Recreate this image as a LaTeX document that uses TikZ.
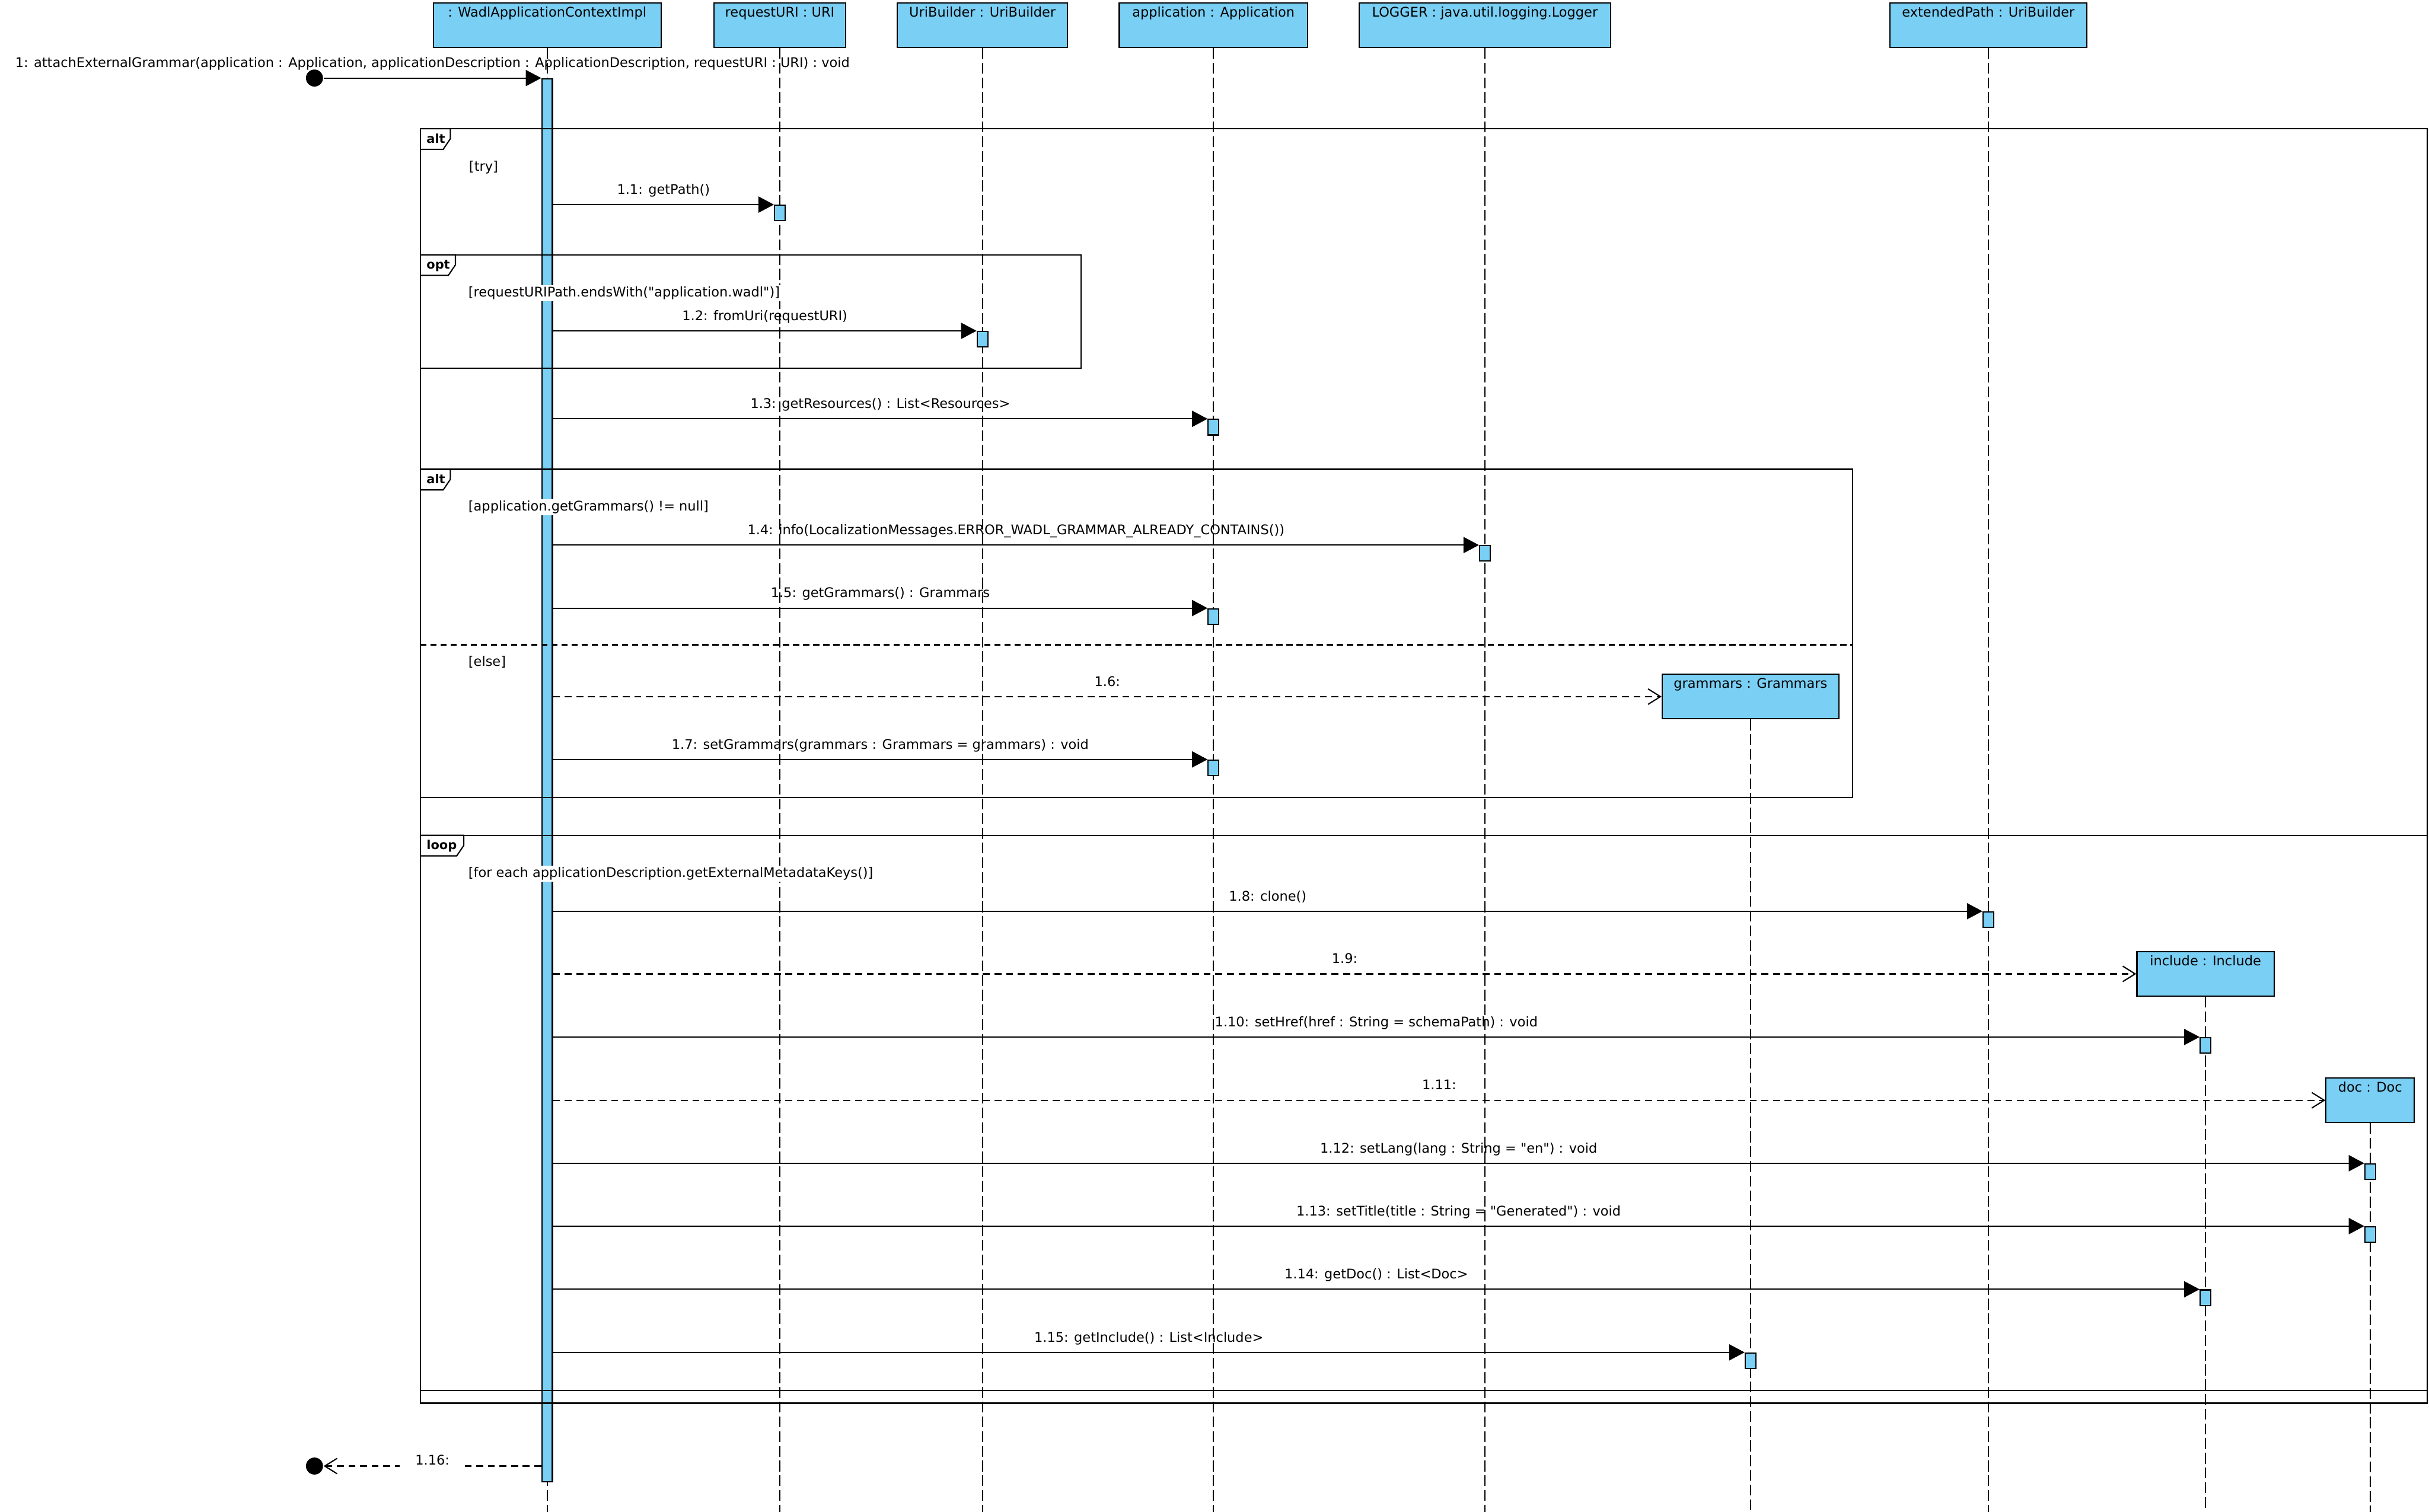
\documentclass[tikz,border=0pt]{standalone}
\usepackage{fontspec}
\setmainfont{DejaVu Sans}[Ligatures=TeXOff]
\usetikzlibrary{arrows.meta,positioning}
\definecolor{lifeblue}{HTML}{7ACFF4}
\begin{document}
\begin{tikzpicture}[x=1pt,y=-1pt,line width=0.8pt,
    font=\fontsize{8.6}{10}\selectfont,
    obj/.style={draw,fill=lifeblue,anchor=north,text height=6.4pt,text depth=17.1pt,inner ysep=2.6pt,inner xsep=0pt},
    life/.style={line width=0.7pt,dash pattern=on 7pt off 2.5pt},
    act/.style={draw,fill=lifeblue,anchor=north,minimum width=6.8pt,minimum height=10pt,inner sep=0pt},
    dot/.style={circle,fill=black,minimum size=11pt,inner sep=0pt},
    call/.style={-{Triangle[length=10pt 0,width=10.4pt 0]}},
    reply/.style={dash pattern=on 4.5pt off 3pt,-{Straight Barb[length=8pt 0,width=10pt 0]}},
    lbl/.style={midway,anchor=base,yshift=6.8pt},
    guard/.style={anchor=base west,fill=white,inner sep=1pt},
    tag/.style={anchor=base west,inner sep=0pt,font=\fontsize{8}{10}\selectfont\bfseries}]
  \useasboundingbox (0,0) rectangle (1568,976);
  \node[obj,minimum width=147pt] (ctx) at (353.2,1.5) {: WadlApplicationContextImpl};
  \node[obj,minimum width=85pt] (uri) at (503.4,1.5) {requestURI : URI};
  \node[obj,minimum width=110pt] (ub) at (634.2,1.5) {UriBuilder : UriBuilder};
  \node[obj,minimum width=121.5pt] (app) at (783.3,1.5) {application : Application};
  \node[obj,minimum width=162.3pt] (log) at (958.5,1.5) {LOGGER : java.util.logging.Logger};
  \node[obj,minimum width=127pt] (ext) at (1283.5,1.5) {extendedPath : UriBuilder};
  \node[obj,minimum width=114pt] (gram) at (1130,435) {grammars : Grammars};
  \node[obj,minimum width=88.5pt] (inc) at (1423.7,614) {include : Include};
  \node[obj,minimum width=57pt] (doc) at (1530,695.6) {doc : Doc};
  \foreach \o in {ctx,uri,ub,app,log,ext,gram,inc,doc}
    \draw[life] (\o.south) -- (\o.south |- 0,976);
  \node[act,minimum height=906pt] (ctxact) at (ctx.south |- 0,50.4) {};

  \draw (271.4,83.1) rectangle (1567,905.9);
  \draw (271.4,164.5) rectangle (697.8,237.9);
  \draw (271.4,303) rectangle (1196,515);
  \draw[dash pattern=on 4pt off 2.5pt] (271.4,416.3) -- (1196,416.3);
  \draw (271.4,539.3) rectangle (1567,897.8);
  \foreach \f/\x/\y/\w/\t in {ta/271.4/83.1/19.3/alt,to/271.4/164.5/22.6/opt,tb/271.4/303/19.3/alt,tl/271.4/539.3/28/loop}{
    \draw (\x,\y) -- ++(\w,0) -- ++(0,6.5) -- ++(-4.6,6.8) -- (\x,\y+13.3);
    \node[tag] (\f) at (\x+3.6,\y+9.2) {\t};
  }
  \node[guard] (gtry) at (301.4,110.6) {[try]};
  \node[guard] (gopt) at (301,191.7) {[requestURIPath.endsWith("application.wadl")]};
  \node[guard] (gnull) at (301,329.9) {[application.getGrammars() != null]};
  \node[guard] (gelse) at (301,430.1) {[else]};
  \node[guard] (gloop) at (301,566.4) {[for each applicationDescription.getExternalMetadataKeys()]};

  \node[dot] (start) at (203,50.4) {};
  \draw[call] (start) -- (ctxact.north west) node[lbl] {1: attachExternalGrammar(application : Application, applicationDescription : ApplicationDescription, requestURI : URI) : void};
  \foreach \a/\o/\h/\t in {
    a1/uri/132.1/{1.1: getPath()},
    a2/ub/213.6/{1.2: fromUri(requestURI)},
    a3/app/270.4/{1.3: getResources() : List<Resources>},
    a4/log/351.9/{1.4: info(LocalizationMessages.ERROR\_WADL\_GRAMMAR\_ALREADY\_CONTAINS())},
    a5/app/392.6/{1.5: getGrammars() : Grammars},
    a7/app/490.3/{1.7: setGrammars(grammars : Grammars = grammars) : void},
    a8/ext/588.3/{1.8: clone()},
    a10/inc/669.5/{1.10: setHref(href : String = schemaPath) : void},
    a12/doc/751/{1.12: setLang(lang : String = "en") : void},
    a13/doc/791.6/{1.13: setTitle(title : String = "Generated") : void},
    a14/inc/832.4/{1.14: getDoc() : List<Doc>},
    a15/gram/873.1/{1.15: getInclude() : List<Include>}}{
    \node[act] (\a) at (\o.south |- 0,\h) {};
    \draw[call] (ctxact.east |- \a.north) -- (\a.north west) node[lbl] {\t};
  }
  \draw[reply] (ctxact.east |- gram.west) -- (gram.west) node[lbl] {1.6:};
  \draw[reply] (ctxact.east |- inc.west) -- (inc.west) node[lbl] {1.9:};
  \draw[reply] (ctxact.east |- doc.west) -- (doc.west) node[lbl] {1.11:};
  \node[dot] (stop) at (203,946.5) {};
  \draw[reply] (ctxact.west |- stop) -- (stop) node[midway,anchor=base,yshift=0.7pt,fill=white,inner xsep=10pt,inner ysep=1pt] {1.16:};
\end{tikzpicture}
\end{document}
